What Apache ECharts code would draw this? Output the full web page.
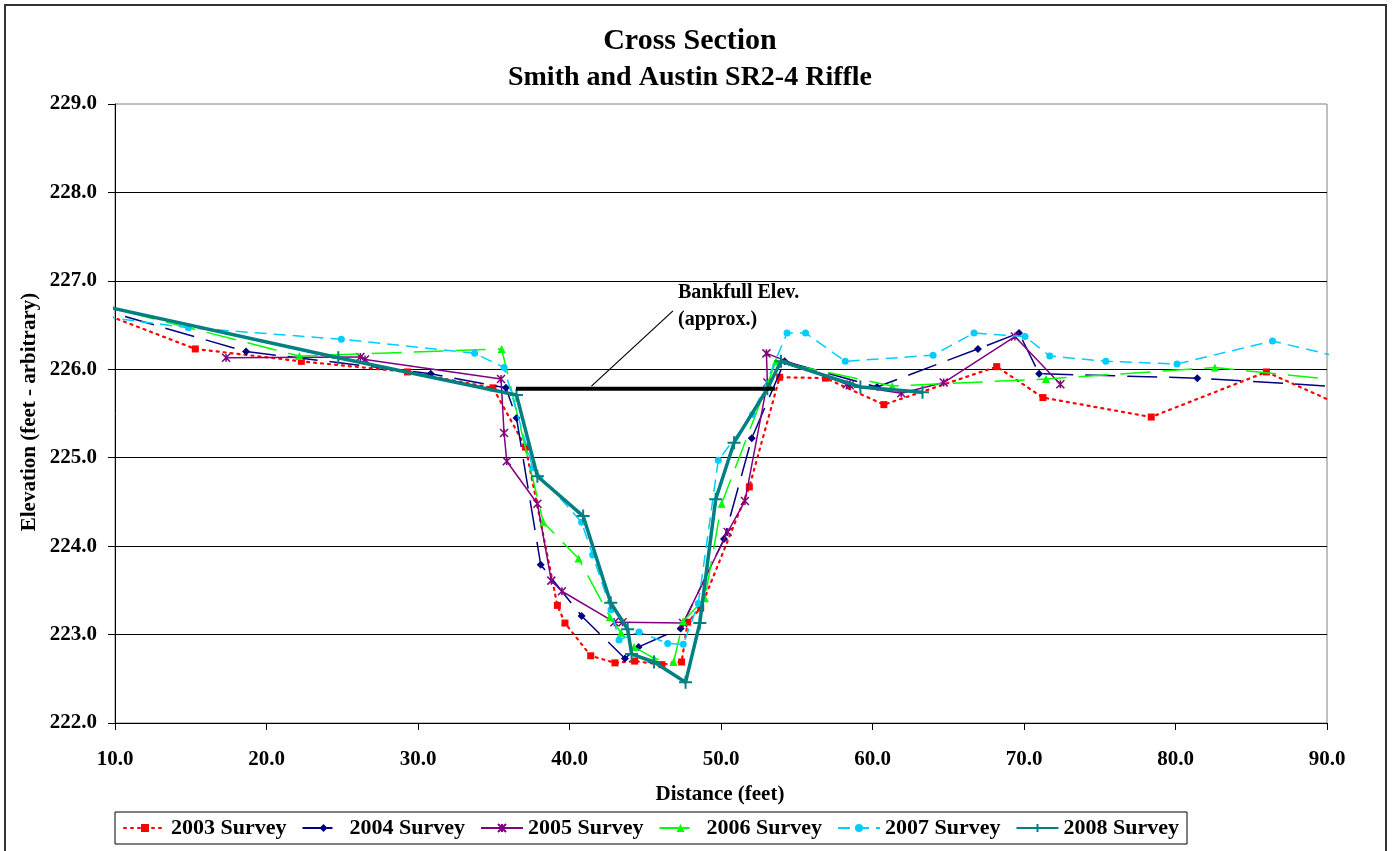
<!DOCTYPE html>
<html>
<head>
<meta charset="utf-8">
<script src="https://cdn.jsdelivr.net/npm/echarts@6/dist/echarts.min.js"></script>
<style>
html,body{margin:0;padding:0;background:#fff;}
#chart{width:1393px;height:851px;}
</style>
</head>
<body>
<div id="chart"></div>
<script>
// ---- data ----
const seriesNames = ['2003 Survey','2004 Survey','2005 Survey','2006 Survey','2007 Survey','2008 Survey'];

const x2003 = [8.0, 15.3, 22.3, 29.3, 34.95, 37.1, 39.2, 39.7, 41.4, 43.0, 44.3, 46.1, 47.4, 47.8, 48.66, 51.87, 53.87, 56.9, 60.75, 68.2, 71.25, 78.4, 86.0, 92.0];
const y2003 = [226.71, 226.23, 226.09, 225.97, 225.79, 225.12, 223.33, 223.13, 222.76, 222.68, 222.70, 222.66, 222.69, 223.14, 223.30, 224.67, 225.91, 225.90, 225.60, 226.03, 225.68, 225.46, 225.97, 225.51];

const x2004 = [8.0, 18.65, 30.84, 35.8, 36.5, 38.1, 40.8, 43.66, 44.56, 47.34, 50.2, 52.03, 54.2, 60.3, 66.96, 69.67, 71.0, 81.44, 92.0];
const y2004 = [226.73, 226.20, 225.95, 225.79, 225.45, 223.79, 223.21, 222.73, 222.86, 223.07, 224.08, 225.22, 226.09, 225.80, 226.23, 226.41, 225.95, 225.90, 225.79];

const x2005 = [17.33, 26.2, 26.5, 35.48, 35.68, 35.86, 37.88, 38.8, 39.5, 42.96, 43.5, 47.5, 50.44, 51.58, 53.06, 53.0, 58.3, 58.5, 61.9, 64.7, 69.4, 72.4];
const y2005 = [226.13, 226.14, 226.11, 225.89, 225.28, 224.96, 224.48, 223.61, 223.49, 223.14, 223.14, 223.13, 224.16, 224.51, 225.85, 226.18, 225.83, 225.82, 225.73, 225.85, 226.37, 225.83];

const x2006 = [8.0, 22.17, 35.52, 38.27, 40.6, 42.67, 43.4, 44.26, 45.58, 46.87, 47.5, 48.94, 50.04, 53.63, 61.3, 71.45, 82.6, 92.0];
const y2006 = [226.77, 226.15, 226.23, 224.27, 223.86, 223.20, 223.02, 222.86, 222.73, 222.69, 223.15, 223.41, 224.48, 226.09, 225.81, 225.89, 226.02, 225.855];

const x2007 = [8.0, 14.84, 24.94, 33.74, 35.68, 37.57, 40.8, 41.53, 42.74, 43.27, 44.59, 46.48, 47.51, 48.5, 49.82, 52.09, 54.36, 55.58, 58.2, 64.0, 66.7, 70.07, 71.7, 75.4, 80.1, 86.4, 92.0];
const y2007 = [226.62, 226.47, 226.34, 226.18, 226.02, 224.89, 224.27, 223.90, 223.28, 222.94, 223.03, 222.90, 222.89, 223.35, 224.97, 225.49, 226.41, 226.41, 226.09, 226.16, 226.41, 226.37, 226.15, 226.09, 226.06, 226.32, 226.09];

const x2008 = [8.0, 24.74, 36.5, 37.88, 40.9, 42.72, 43.84, 44.1, 45.58, 47.66, 48.6, 49.65, 50.86, 53.06, 53.96, 59.2, 63.3];
const y2008 = [226.76, 226.13, 225.71, 224.79, 224.34, 223.36, 223.06, 222.78, 222.69, 222.46, 223.13, 224.53, 225.17, 225.78, 226.09, 225.80, 225.74];

const xBankfull = [36.47, 53.56];
const yBankfull = [225.78, 225.78];
const arrowFrom = [46.83, 226.66];
const arrowTo = [41.45, 225.81];

const xTicks = {min: 10, max: 90, step: 10};
const yTicks = {min: 222, max: 229, step: 1};

// ---- build ----
const zip = (xs, ys) => xs.map((x, i) => [x, ys[i]]);
const FONT = '"Liberation Serif", "Times New Roman", serif';

const chart = echarts.init(document.getElementById('chart'), null, {renderer: 'canvas'});

function lineSeries(name, data, color, lineStyle, symbol, symbolSize, itemStyle, z) {
  return {
    name, type: 'line', data, z,
    symbol, symbolSize,
    showAllSymbol: true,
    clip: true,
    lineStyle: Object.assign({color}, lineStyle),
    itemStyle: Object.assign({color}, itemStyle || {}),
    emphasis: {disabled: true},
    animation: false
  };
}

const option = {
  animation: false,
  backgroundColor: '#fff',
  grid: {left: 115, right: 66, top: 104, bottom: 128, show: true, borderColor: '#808080', borderWidth: 1, backgroundColor: 'transparent'},
  xAxis: {
    type: 'value', min: xTicks.min, max: xTicks.max, interval: xTicks.step,
    axisLine: {show: true, onZero: false, lineStyle: {color: '#000', width: 1}},
    axisTick: {show: true, inside: false, length: 7, lineStyle: {color: '#000'}},
    axisLabel: {margin: 26, color: '#000', fontFamily: FONT, fontWeight: 'bold', fontSize: 21, formatter: v => v.toFixed(1)},
    splitLine: {show: false}
  },
  yAxis: {
    type: 'value', min: yTicks.min, max: yTicks.max, interval: yTicks.step,
    axisLine: {show: true, onZero: false, lineStyle: {color: '#000', width: 1}},
    axisTick: {show: true, inside: false, length: 7, lineStyle: {color: '#000'}},
    axisLabel: {margin: 18, color: '#000', fontFamily: FONT, fontWeight: 'bold', fontSize: 21, formatter: v => v.toFixed(1)},
    splitLine: {show: true, showMaxLine: false, lineStyle: {color: '#000', width: 1}}
  },
  legend: {
    data: seriesNames,
    left: 115, top: 812,
    padding: [5, 8],
    itemGap: 15,
    itemWidth: 42, itemHeight: 10,
    borderColor: '#000', borderWidth: 1,
    backgroundColor: '#fff',
    textStyle: {color: '#000', fontFamily: FONT, fontWeight: 'bold', fontSize: 22},
    selectedMode: false
  },
  series: [
    lineSeries('2003 Survey', zip(x2003, y2003), '#FF0000', {type: [2, 5], width: 2.2, cap: 'round'}, 'rect', 7, null, 2),
    lineSeries('2004 Survey', zip(x2004, y2004), '#000080', {type: [30, 12], width: 1.5}, 'diamond', 8, null, 3),
    lineSeries('2005 Survey', zip(x2005, y2005), '#800080', {type: 'solid', width: 1.5}, 'path://M0,0L10,10M10,0L0,10M5,0L5,10', 8, {borderColor: '#800080', borderWidth: 1.5}, 4),
    lineSeries('2006 Survey', zip(x2006, y2006), '#00FF00', {type: [30, 12], width: 1.5}, 'triangle', 8, null, 5),
    lineSeries('2007 Survey', zip(x2007, y2007), '#00CCFF', {type: [12, 7], width: 1.5}, 'circle', 7, null, 6),
    lineSeries('2008 Survey', zip(x2008, y2008), '#008080', {type: 'solid', width: 3.5}, 'path://M5,0L5,10M0,5L10,5', 13, {borderColor: '#008080', borderWidth: 2}, 7),
    {
      name: 'Bankfull', type: 'line', data: zip(xBankfull, yBankfull), z: 8,
      symbol: 'none', lineStyle: {color: '#000', width: 4},
      emphasis: {disabled: true},
      markLine: {
        silent: true, symbol: ['none', 'arrow'], symbolSize: [0, 12],
        label: {show: false},
        lineStyle: {color: '#000', width: 1.2, type: 'solid'},
        data: [[{coord: arrowFrom}, {coord: arrowTo}]]
      }
    }
  ],
  graphic: [
    {type: 'rect', shape: {x: 5, y: 5, width: 1381, height: 870}, style: {fill: 'none', stroke: '#333', lineWidth: 2}, silent: true, z: -1},
    {type: 'text', x: 690, y: 41, style: {text: 'Cross Section', font: 'bold 30px ' + FONT, fill: '#000', align: 'center', verticalAlign: 'middle'}},
    {type: 'text', x: 690, y: 78, style: {text: 'Smith and Austin SR2-4 Riffle', font: 'bold 28px ' + FONT, fill: '#000', align: 'center', verticalAlign: 'middle'}},
    {type: 'text', x: 720, y: 795, style: {text: 'Distance (feet)', font: 'bold 21px ' + FONT, fill: '#000', align: 'center', verticalAlign: 'middle'}},
    {type: 'text', x: 30, y: 412, rotation: Math.PI / 2, style: {text: 'Elevation (feet - arbitrary)', font: 'bold 21px ' + FONT, fill: '#000', align: 'center', verticalAlign: 'middle'}},
    {type: 'text', x: 678, y: 293, style: {text: 'Bankfull Elev.', font: 'bold 20px ' + FONT, fill: '#000', align: 'left', verticalAlign: 'middle'}},
    {type: 'text', x: 678, y: 320, style: {text: '(approx.)', font: 'bold 20px ' + FONT, fill: '#000', align: 'left', verticalAlign: 'middle'}}
  ]
};
chart.setOption(option);
</script>
</body>
</html>
